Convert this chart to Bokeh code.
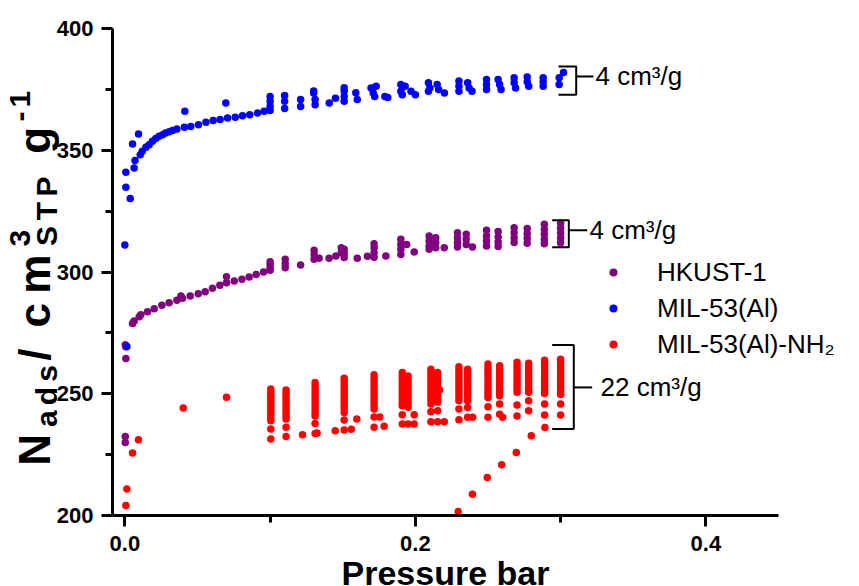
import math
from bokeh.plotting import figure
from bokeh.models import Range1d, Label, Legend, LegendItem, FixedTicker
from bokeh.embed import file_html
from bokeh.resources import INLINE

FONT = "Liberation Sans"

# ---------------- data ----------------
# HKUST-1 (purple)
hk_x = [0.0003, 0.0007, 0.0007, 0.0003, 0.0003, 0.0053, 0.0064, 0.0099, 0.011, 0.0156, 0.0202, 0.0255,
        0.0305, 0.0358, 0.0386, 0.0397, 0.045, 0.0505, 0.0553, 0.0603, 0.0654, 0.070, 0.070, 0.0753,
        0.0806, 0.0856, 0.0904, 0.0955, 0.100, 0.100, 0.100, 0.100, 0.1104, 0.1104, 0.1104, 0.121,
        0.1303, 0.1303, 0.1303, 0.1338, 0.1406, 0.1453, 0.149, 0.149,
        0.151, 0.151, 0.151, 0.160,
        0.1716, 0.1716, 0.1716, 0.1716, 0.167, 0.1797,
        0.190, 0.190, 0.190, 0.190, 0.194, 0.1992,
        0.2095, 0.2095, 0.2095, 0.2095, 0.214, 0.214, 0.214, 0.2199,
        0.229, 0.229, 0.229, 0.229, 0.235, 0.235, 0.235, 0.2393,
        0.249, 0.249, 0.249, 0.249, 0.257, 0.257, 0.257, 0.257,
        0.268, 0.268, 0.268, 0.268, 0.277, 0.277, 0.277, 0.277,
        0.2888, 0.2888, 0.2888, 0.2888, 0.2888, 0.300, 0.300, 0.300, 0.300, 0.300]
hk_y = [270.1, 269.3, 264.5, 232.4, 230.0, 278.8, 279.9, 281.6, 282.4, 283.7, 284.9, 286.3,
        287.4, 288.4, 290.1, 289.2, 290.1, 291.1, 291.9, 293.3, 294.6, 298.0, 295.6, 296.3,
        297.0, 297.9, 299.0, 300.0, 304.2, 302.9, 301.5, 300.7, 305.2, 303.4, 301.7, 302.9,
        308.9, 307.2, 305.2, 305.6, 305.6, 306.6, 310.0, 307.9,
        309.3, 307.6, 306.0, 305.6,
        311.6, 310.0, 307.9, 306.1, 306.5, 306.6,
        313.4, 311.3, 309.3, 307.2, 311.3, 308.2,
        314.8, 312.7, 310.7, 309.3, 314.1, 312.0, 310.0, 310.0,
        316.1, 314.1, 312.1, 310.3, 315.5, 313.4, 311.3, 310.3,
        317.1, 314.8, 312.7, 310.7, 316.6, 314.4, 312.3, 310.5,
        318.2, 316.1, 314.1, 312.1, 317.9, 315.8, 313.8, 311.8,
        319.6, 317.5, 315.5, 313.4, 311.6, 320.0, 318.0, 316.0, 314.0, 312.0]

# MIL-53(Al) (blue)
mil_x = [0.0014, 0.0, 0.0037, 0.0007, 0.0007, 0.0064, 0.007, 0.0053, 0.0094,
         0.0106, 0.012, 0.0145, 0.0167, 0.019, 0.0213, 0.0236, 0.026, 0.028, 0.0305, 0.0328, 0.0358,
         0.041, 0.0454, 0.0507, 0.0558, 0.0608, 0.0656, 0.0707, 0.076, 0.081, 0.086, 0.0913, 0.0959,
         0.0413, 0.0695,
         0.100, 0.100, 0.100, 0.100, 0.110, 0.110, 0.110, 0.121, 0.121,
         0.130, 0.130, 0.131, 0.131, 0.1407, 0.145,
         0.151, 0.151, 0.151, 0.151, 0.159, 0.160,
         0.1695, 0.173, 0.171, 0.172, 0.179, 0.181,
         0.190, 0.193, 0.190, 0.191, 0.197, 0.200,
         0.209, 0.210, 0.209, 0.215, 0.216, 0.220,
         0.230, 0.230, 0.230, 0.236, 0.237, 0.239,
         0.249, 0.249, 0.249, 0.257, 0.258, 0.259,
         0.268, 0.268, 0.269, 0.277, 0.277, 0.278,
         0.288, 0.288, 0.288, 0.302, 0.299, 0.299]
mil_y = [269.4, 311.1, 330.2, 334.8, 341.0, 342.7, 345.8, 352.6, 356.7,
         348.2, 349.6, 351.2, 352.3, 353.7, 354.8, 355.7, 356.4, 357.1, 357.6, 358.1, 358.7,
         359.4, 359.8, 360.5, 361.5, 362.2, 362.6, 363.2, 363.6, 364.2, 364.6, 365.3, 366.0,
         366.0, 369.4,
         372.1, 370.1, 368.0, 366.3, 372.5, 370.1, 367.1, 370.8, 368.0,
         374.3, 373.5, 370.8, 368.7, 369.4, 371.4,
         375.7, 374.3, 372.1, 370.1, 373.6, 370.8,
         375.6, 376.3, 373.5, 372.1, 372.1, 371.7,
         377.0, 376.3, 374.2, 372.8, 374.2, 372.8,
         377.7, 375.6, 374.2, 377.0, 374.9, 373.5,
         378.4, 376.3, 374.2, 377.7, 375.6, 374.2,
         379.1, 377.0, 374.9, 379.1, 377.0, 374.9,
         379.8, 377.7, 375.6, 380.1, 378.1, 376.3,
         379.8, 378.1, 376.3, 381.9, 379.8, 377.0]

# MIL-53(Al)-NH2 (red): isolated points
nh2_pt_x = [0.0007, 0.0014, 0.0053, 0.0094, 0.0402, 0.070, 0.1223, 0.1323, 0.1448, 0.1559, 0.1597,
            0.1755, 0.1785, 0.1992, 0.1992, 0.2166, 0.2199, 0.2394, 0.2601,
            0.2295, 0.2393, 0.2495, 0.2594, 0.2695, 0.2798, 0.2892]
nh2_pt_y = [204.1, 210.9, 225.7, 231.1, 244.1, 248.6, 233.2, 233.9, 234.8, 235.4, 239.6,
            240.5, 236.7, 241.4, 237.6, 251.5, 238.5, 240.3, 240.3,
            201.6, 208.7, 215.6, 220.8, 225.9, 232.8, 236.1]
# MIL-53(Al)-NH2 (red): measurement columns
nh2_col_x = [0.1005, 0.111, 0.131, 0.151, 0.1716, 0.191, 0.195, 0.2107, 0.2153,
             0.230, 0.236, 0.250, 0.258, 0.270, 0.278, 0.289, 0.300]
nh2_col_y = [
    [251.9, 250.6, 249.3, 248.0, 246.6, 245.3, 244.0, 242.7, 241.3, 240.0, 238.9, 235.5, 231.4],
    [251.5, 250.2, 248.9, 247.6, 246.3, 244.9, 243.6, 242.3, 241.0, 239.6, 236.2, 232.4],
    [254.6, 253.2, 251.8, 250.4, 249.0, 247.6, 246.2, 244.8, 243.4, 242.0, 240.9, 237.8, 233.7],
    [256.4, 255.0, 253.6, 252.2, 250.8, 249.4, 248.0, 246.6, 245.2, 243.8, 242.3, 239.2, 235.1],
    [257.8, 256.4, 255.0, 253.6, 252.2, 250.8, 249.4, 248.0, 246.6, 245.2, 243.7, 240.5, 236.2],
    [258.7, 257.3, 255.9, 254.5, 253.1, 251.7, 250.3, 248.9, 247.5, 246.1, 245.1, 241.4, 237.6],
    [257.3, 255.9, 254.5, 253.1, 251.7, 250.3, 248.9, 247.5, 246.1, 244.5, 237.6],
    [260.1, 258.7, 257.3, 255.9, 254.5, 253.1, 251.7, 250.3, 248.9, 247.5, 245.8, 242.6, 238.5],
    [258.7, 257.3, 255.9, 254.5, 253.1, 251.7, 250.3, 248.9, 247.5, 246.5, 243.0, 238.5],
    [261.1, 259.7, 258.3, 256.9, 255.5, 254.1, 252.7, 251.3, 249.9, 248.5, 247.1, 243.7, 239.3],
    [260.1, 258.7, 257.3, 255.9, 254.5, 253.1, 251.7, 250.3, 248.9, 247.1, 244.4, 240.3],
    [262.2, 260.8, 259.4, 258.0, 256.6, 255.2, 253.8, 252.4, 251.0, 249.7, 248.5, 244.7, 240.3],
    [261.5, 260.1, 258.7, 257.3, 255.9, 254.5, 253.1, 251.7, 250.3, 249.2, 245.8, 241.6],
    [262.9, 261.5, 260.1, 258.7, 257.3, 255.9, 254.5, 253.1, 251.7, 250.6, 245.4, 240.9],
    [262.5, 261.1, 259.7, 258.3, 256.9, 255.5, 254.1, 252.7, 251.5, 250.6, 247.1, 243.0],
    [263.8, 262.4, 261.0, 259.6, 258.2, 256.8, 255.4, 254.0, 252.6, 251.2, 250.1, 245.8, 241.3],
    [264.2, 262.8, 261.4, 260.0, 258.6, 257.2, 255.8, 254.4, 253.0, 251.6, 250.4, 249.7, 245.8, 241.3],
]

series_names = ["HKUST-1", "MIL-53(Al)", "MIL-53(Al)-NH\u2082"]
series_colors = ["#800080", "#0000FF", "#FF0000"]

x_ticks = [0.0, 0.2, 0.4]
x_tick_labels = ["0.0", "0.2", "0.4"]
x_minor = [0.1, 0.3]
y_ticks = [200, 250, 300, 350, 400]
y_minor = [225, 275, 325, 375]

# spread annotations (bracket at x = 0.30)
bracket_labels = ["4 cm\u00b3/g", "4 cm\u00b3/g", "22 cm\u00b3/g"]
bracket_top = [384.4, 321.3, 270.0]
bracket_bottom = [372.8, 310.2, 235.5]
bracket_mid = [380.3, 317.1, 252.6]

# ---------------- geometry ----------------
W, H = 859, 586
X0, X1, Y0, Y1 = -0.0085, 0.45, 200, 400     # visible axes extent
L, R, T, B = 112, 778, 28, 515               # axes box in canvas pixels
PXU = (R - L) / (X1 - X0)
PYU = (B - T) / (Y1 - Y0)
XS, XE = X0 - L / PXU, X1 + (W - R) / PXU
YS, YE = Y0 - (H - B) / PYU, Y1 + T / PYU


def sx(px):
    return XS + px / PXU


def sy(py):
    return YE - py / PYU


p = figure(width=W, height=H, output_backend="svg", toolbar_location=None,
           x_range=Range1d(XS, XE), y_range=Range1d(YS, YE),
           min_border=0, min_border_left=0, min_border_right=0, min_border_top=0, min_border_bottom=0)
p.outline_line_color = None
p.xgrid.visible = False
p.ygrid.visible = False
p.background_fill_color = "white"
p.border_fill_color = "white"

for ax in (p.xaxis[0], p.yaxis[0]):
    ax.axis_line_width = 3
    ax.major_tick_line_width = 3
    ax.minor_tick_line_width = 3
    ax.major_tick_in = 0
    ax.major_tick_out = 11
    ax.minor_tick_in = 0
    ax.minor_tick_out = 7
    ax.major_label_text_font = FONT
    ax.major_label_text_font_style = "bold"
    ax.major_label_text_font_size = "22px"
    ax.major_label_text_color = "black"

p.xaxis.fixed_location = Y0
p.xaxis.bounds = (X0, X1)
p.xaxis.ticker = FixedTicker(ticks=x_ticks, minor_ticks=x_minor)
p.xaxis.major_label_overrides = {t: s for t, s in zip(x_ticks, x_tick_labels)}
p.xaxis.major_label_standoff = 9
p.yaxis.fixed_location = X0
p.yaxis.bounds = (Y0, Y1)
p.yaxis.ticker = FixedTicker(ticks=y_ticks, minor_ticks=y_minor)
p.yaxis.major_label_standoff = 8

# scatter series
nh2_x = list(nh2_pt_x)
nh2_y = list(nh2_pt_y)
for cx, cys in zip(nh2_col_x, nh2_col_y):
    nh2_x += [cx] * len(cys)
    nh2_y += cys

DOT = 7.5
r_hk = p.scatter(hk_x, hk_y, size=DOT, color=series_colors[0], line_color=None)
r_mil = p.scatter(mil_x, mil_y, size=DOT, color=series_colors[1], line_color=None)
r_nh2 = p.scatter(nh2_x, nh2_y, size=DOT, color=series_colors[2], line_color=None)

legend = Legend(items=[LegendItem(label=series_names[0], renderers=[r_hk]),
                       LegendItem(label=series_names[1], renderers=[r_mil]),
                       LegendItem(label=series_names[2], renderers=[r_nh2])],
                location=(603, H - 362), padding=0, margin=0, spacing=0,
                glyph_width=20, glyph_height=36, label_height=36, label_standoff=34,
                border_line_color=None, background_fill_alpha=0,
                label_text_font=FONT, label_text_font_size="26px", label_text_baseline="middle",
                label_text_color="black")
p.add_layout(legend)

# brackets
arm_left = [sx(558), sx(551.7), sx(551.7)]
arm_right = [sx(575.7), sx(568.3), sx(573.3)]
tick_end = [sx(593), sx(586.7), sx(591.7)]
text_x = [sx(595), sx(589), sx(600)]
for i in range(3):
    p.line([arm_left[i], arm_right[i], arm_right[i], arm_left[i]],
           [bracket_top[i], bracket_top[i], bracket_bottom[i], bracket_bottom[i]],
           line_color="black", line_width=2)
    p.line([arm_right[i], tick_end[i]], [bracket_mid[i], bracket_mid[i]], line_color="black", line_width=2)
    p.add_layout(Label(x=text_x[i], y=bracket_mid[i], text=bracket_labels[i], text_font=FONT,
                       text_font_size="26px", text_baseline="middle", text_align="left", text_color="black"))

# x title
p.add_layout(Label(x=sx(445), y=sy(572), text="Pressure bar", text_font=FONT, text_font_style="bold",
                   text_font_size="34px", text_align="center", text_baseline="middle", text_color="black"))

# y title: "N_ads / cm^3_STP g^-1", rotated, set glyph by glyph (the original title is stretched
# along its length), reading from bottom to top.
F, f = 44, 30
ADV = {"N": .722, "a": .556, "d": .611, "s": .556, "/": .278, " ": .278, "c": .556, "m": .889,
       "3": .556, "S": .667, "T": .611, "P": .667, "g": .611, "-": .333, "1": .556}
MAIN_X, SUB_X, SUP_X = 34, 46, 19
runs = [("N", F, MAIN_X), ("ads", f, SUB_X), ("/ cm", F, MAIN_X), ("STP", f, SUB_X),
        (" g", F, MAIN_X), ("-1", f, SUP_X)]
natural = sum(ADV[ch] * size for txt, size, _ in runs for ch in txt)
BOTTOM, TOP = 470, 88
k = (BOTTOM - TOP) / natural
pos = BOTTOM
for txt, size, cx in runs:
    if txt == "STP":
        # superscript 3 sits above the STP subscript, sharing its start
        adv3 = ADV["3"] * f * k
        p.add_layout(Label(x=sx(SUP_X), y=sy(pos - adv3 / 2), text="3", angle=math.pi / 2,
                           text_font=FONT, text_font_style="bold", text_font_size=f"{f}px",
                           text_align="center", text_baseline="middle", text_color="black"))
    for ch in txt:
        adv = ADV[ch] * size * k
        if ch != " ":
            p.add_layout(Label(x=sx(cx), y=sy(pos - adv / 2), text=ch, angle=math.pi / 2,
                               text_font=FONT, text_font_style="bold", text_font_size=f"{size}px",
                               text_align="center", text_baseline="middle", text_color="black"))
        pos -= adv

open("out.html", "w").write(file_html(p, INLINE))
